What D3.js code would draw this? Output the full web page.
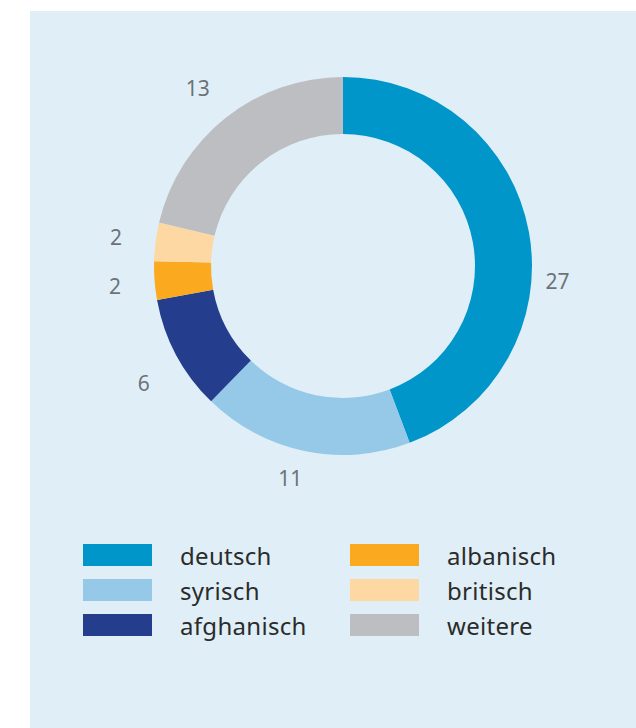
<!DOCTYPE html>
<html>
<head>
<meta charset="utf-8">
<script src="https://cdn.jsdelivr.net/npm/d3@7"></script>
<style>
  html, body { margin: 0; padding: 0; background: #fff; }
  svg { display: block; }
</style>
</head>
<body>
<div id="chart"></div>
<script>
// data
const categories = ["deutsch", "syrisch", "afghanisch", "albanisch", "britisch", "weitere"];
const values = [27, 11, 6, 2, 2, 13];
const colors = ["#0096ca", "#95c9e7", "#243e8d", "#fba91f", "#fed8a2", "#bdbec2"];
// labels are nudged off their centroids a little in the original
const labelShift = [14.3, 2.2, -2.4, -0.7, 0, -0.8];   // degrees
const labelDist = [215, 218, 231, 229, 229, 230];
const legendCols = [[0, 1, 2], [3, 4, 5]];

const width = 636, height = 728;
const cx = 343, cy = 266;
const outerR = 189, innerR = 132;

const svg = d3.select("#chart").append("svg")
  .attr("width", width)
  .attr("height", height);

// light blue panel
svg.append("rect")
  .attr("x", 30).attr("y", 11)
  .attr("width", width - 30).attr("height", height - 11)
  .attr("fill", "#e0eff7");

const data = categories.map((c, i) => ({ name: c, value: values[i], i: i }));

const pie = d3.pie().value(d => d.value).sort(null);
const arcs = pie(data);

const arc = d3.arc().innerRadius(innerR).outerRadius(outerR);

const g = svg.append("g").attr("transform", `translate(${cx},${cy})`);

g.selectAll("path")
  .data(arcs)
  .enter()
  .append("path")
  .attr("d", arc)
  .attr("fill", d => colors[d.data.i]);

const labelAngle = d => (d.startAngle + d.endAngle) / 2 + labelShift[d.data.i] * Math.PI / 180;

g.selectAll("text.lbl")
  .data(arcs)
  .enter()
  .append("text")
  .attr("class", "lbl")
  .attr("text-anchor", "middle")
  .attr("dominant-baseline", "central")
  .attr("x", d => labelDist[d.data.i] * Math.sin(labelAngle(d)))
  .attr("y", d => -labelDist[d.data.i] * Math.cos(labelAngle(d)))
  .attr("font-family", "'Noto Sans', sans-serif")
  .attr("font-size", 21)
  .attr("fill", "#6d7276")
  .text(d => d.value);

// legend
const colX = [83, 350];
const rowY = d3.scaleBand().domain([0, 1, 2]).range([544, 649]).paddingInner(0);
const legend = svg.append("g");

legendCols.forEach((col, ci) => {
  col.forEach((idx, ri) => {
    let y = rowY(ri);
    legend.append("rect")
      .attr("x", colX[ci]).attr("y", y)
      .attr("width", 69).attr("height", 22)
      .attr("fill", colors[idx]);
    legend.append("text")
      .attr("x", colX[ci] + 97)
      .attr("y", y + 21)
      .attr("font-family", "'Noto Sans', sans-serif")
      .attr("font-size", 24)
      .attr("letter-spacing", 0.3)
      .attr("fill", "#2b2b2b")
      .text(categories[idx]);
  });
});
</script>
</body>
</html>
